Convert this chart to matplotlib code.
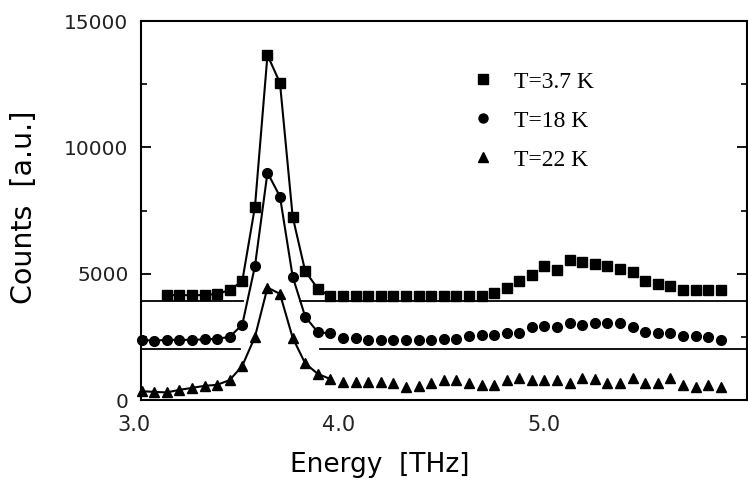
import numpy as np
import matplotlib
matplotlib.use('Agg')
import matplotlib.pyplot as plt

# energy grid [THz]
energy = [3.037, 3.098, 3.160, 3.221, 3.283, 3.344, 3.405, 3.467, 3.528, 3.590,
          3.651, 3.712, 3.774, 3.835, 3.897, 3.958, 4.019, 4.081, 4.142, 4.204,
          4.265, 4.326, 4.388, 4.449, 4.511, 4.572, 4.633, 4.695, 4.756, 4.818,
          4.879, 4.940, 5.002, 5.063, 5.125, 5.186, 5.247, 5.309, 5.370, 5.432,
          5.493, 5.554, 5.616, 5.677, 5.739, 5.800, 5.861]

# T=3.7 K starts at the third energy point
counts_37K = [4150, 4150, 4150, 4150, 4200, 4350, 4700, 7650, 13650, 12550,
              7250, 5100, 4400, 4100, 4100, 4100, 4100, 4100, 4100, 4100,
              4100, 4100, 4100, 4100, 4100, 4100, 4250, 4450, 4700, 4950,
              5300, 5150, 5550, 5450, 5400, 5300, 5200, 5050, 4700, 4600,
              4500, 4350, 4350, 4350, 4350]
counts_18K = [2380, 2350, 2380, 2380, 2380, 2400, 2420, 2500, 2980, 5300,
              9000, 8050, 4880, 3300, 2680, 2640, 2460, 2460, 2380, 2380,
              2380, 2380, 2380, 2380, 2400, 2420, 2540, 2580, 2580, 2650,
              2650, 2900, 2940, 2900, 3050, 2980, 3050, 3050, 3050, 2900,
              2700, 2660, 2660, 2540, 2540, 2500, 2380]
counts_22K = [350, 320, 300, 400, 480, 560, 600, 790, 1350, 2500,
              4450, 4200, 2460, 1450, 1030, 830, 700, 700, 700, 700,
              675, 520, 560, 675, 800, 800, 675, 600, 600, 800,
              870, 800, 800, 800, 675, 870, 830, 675, 675, 870,
              675, 675, 870, 600, 520, 600, 520]

labels = ['T=3.7 K', 'T=18 K', 'T=22 K']

# horizontal base lines and where they are interrupted by the peak
base_37K = 3900
base_18K = 2000
gap_37K = (3.532, 3.81)
gap_18K = (3.517, 3.907)

x_left = 3.034
x_right = 5.99
fit_end = 3.99   # the connecting curve is only drawn over the peak region

sq_energy = energy[2:]
series = [(sq_energy, counts_37K, 's', 7.5),
          (energy, counts_18K, 'o', 7.0),
          (energy, counts_22K, '^', 7.0)]

fig = plt.figure(figsize=(7.48, 4.80), dpi=100)
ax = fig.add_axes([129.9/748, 80/480, (747-129.9)/748, 379/480])

for base, gap in [(base_37K, gap_37K), (base_18K, gap_18K)]:
    ax.plot([x_left, gap[0]], [base, base], color='k', lw=1.3)
    ax.plot([gap[1], x_right], [base, base], color='k', lw=1.3)

for (e, c, m, ms), lab in zip(series, labels):
    e = np.array(e)
    c = np.array(c)
    sel = e <= fit_end
    ax.plot(e[sel], c[sel], '-', color='k', lw=1.5)
    ax.plot(e, c, m, color='k', ms=ms, ls='none', label=lab)

ax.set_xlim(2.98, x_right)
ax.set_ylim(0, 15000)

ax.spines['left'].set_position(('data', x_left))
ax.spines['top'].set_bounds(x_left, x_right)
ax.spines['bottom'].set_bounds(x_left, x_right)
for sp in ax.spines.values():
    sp.set_linewidth(1.5)

ax.set_xticks([3.0, 4.0, 5.0])
ax.set_xticklabels(['3.0', '4.0', '5.0'])
ax.set_yticks([0, 5000, 10000, 15000])
ax.set_yticks(np.arange(0, 15001, 2500), minor=True)
ax.tick_params(axis='x', length=0, pad=11, labelsize=15, labelcolor='#222222')
ax.tick_params(axis='y', which='major', direction='in', length=7, width=1.3,
               right=True, pad=9, labelsize=14.5, labelcolor='#222222')
ax.tick_params(axis='y', which='minor', direction='in', length=4, width=1.2,
               right=True)

ax.set_xlabel('Energy  [THz]', fontsize=19)
ax.xaxis.set_label_coords((380-129.9)/617.1, -0.138)
ax.set_ylabel('Counts  [a.u.]', fontsize=20.5)
ax.yaxis.set_label_coords((38-129.9)/617.1, 0.509)

leg = ax.legend(loc='upper left', bbox_to_anchor=(0.553, 0.868), frameon=False,
                handlelength=1.0, handletextpad=0.8, borderpad=0, borderaxespad=0,
                labelspacing=0.74, prop={'family': 'Liberation Serif', 'size': 17})
for h in leg.legend_handles:
    h.set_markersize(6.5)

fig.savefig('out.png', dpi=100)
